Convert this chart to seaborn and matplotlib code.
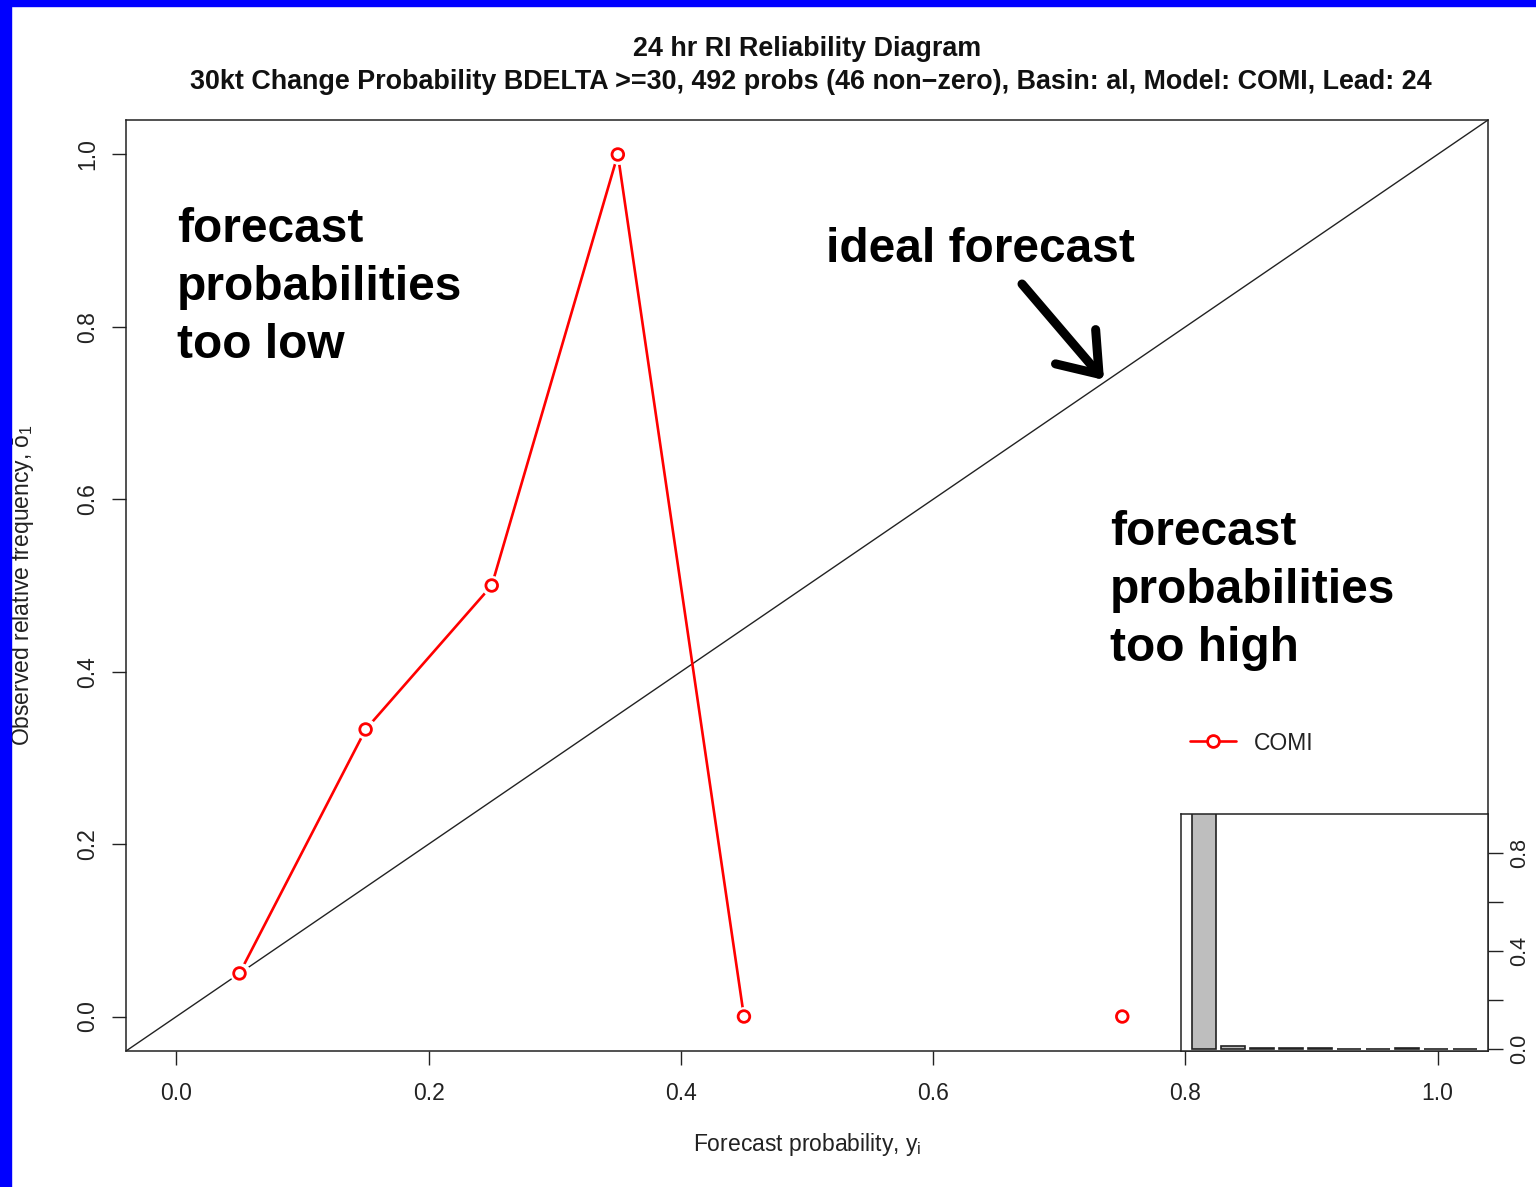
import numpy as np
import pandas as pd
import matplotlib
matplotlib.use("Agg")
import matplotlib.pyplot as plt
from matplotlib.lines import Line2D
from matplotlib.patches import Rectangle
import seaborn as sns

# ---------------- data ----------------
bin_centers = [0.05, 0.15, 0.25, 0.35, 0.45, 0.55, 0.65, 0.75, 0.85, 0.95]
obs_freq = [0.05, 0.333, 0.5, 1.0, 0.0, np.nan, np.nan, 0.0, np.nan, np.nan]
segment = [1, 1, 1, 1, 1, 2, 2, 2, 3, 3]
hist_bins = ["0.0-0.1", "0.1-0.2", "0.2-0.3", "0.3-0.4", "0.4-0.5",
             "0.5-0.6", "0.6-0.7", "0.7-0.8", "0.8-0.9", "0.9-1.0"]
hist_freq = [0.975, 0.012, 0.004, 0.004, 0.004, 0.001, 0.001, 0.003, 0.001, 0.001]
x_ticks = [0.0, 0.2, 0.4, 0.6, 0.8, 1.0]
x_ticklabels = ["0.0", "0.2", "0.4", "0.6", "0.8", "1.0"]
y_ticks = [0.0, 0.2, 0.4, 0.6, 0.8, 1.0]
y_ticklabels = ["0.0", "0.2", "0.4", "0.6", "0.8", "1.0"]
inset_ticks = [0.0, 0.2, 0.4, 0.6, 0.8]
inset_ticklabels = ["0.0", "", "0.4", "", "0.8"]
title1 = "24 hr RI Reliability Diagram"
title2 = "30kt Change Probability BDELTA >=30, 492 probs (46 non\u2212zero), Basin: al, Model: COMI, Lead: 24"
model_name = "COMI"

# ---------------- style ----------------
sns.set_theme(style="ticks")
plt.rcParams["font.family"] = ["Liberation Sans", "DejaVu Sans"]
plt.rcParams["mathtext.fontset"] = "custom"
plt.rcParams["mathtext.rm"] = "Liberation Sans"
plt.rcParams["mathtext.it"] = "Liberation Sans"
plt.rcParams["text.color"] = "black"
plt.rcParams["axes.edgecolor"] = "#222222"
plt.rcParams["axes.linewidth"] = 1.1

W, H = 1536, 1187
fig = plt.figure(figsize=(W / 100, H / 100), dpi=100)
fig.patch.set_facecolor("white")

# blue frame
fig.patches.append(Rectangle((0, 0), 11 / W, 1, transform=fig.transFigure,
                             color="#0000FF", zorder=10))
fig.patches.append(Rectangle((0, 1 - 6 / H), 1, 6 / H, transform=fig.transFigure,
                             color="#0000FF", zorder=10))

L, R, B, T = 126 / W, 1488 / W, 1 - 1051 / H, 1 - 120 / H
ax = fig.add_axes([L, B, R - L, T - B])
ax.set_xlim(-0.04, 1.04)
ax.set_ylim(-0.04, 1.04)
for s in ax.spines.values():
    s.set_visible(True)
    s.set_color("#222222")

# ideal diagonal
ax.axline((0, 0), slope=1, color="#222222", lw=1.0, zorder=2)

df = pd.DataFrame({"x": bin_centers, "y": obs_freq, "seg": segment})
sns.lineplot(data=df.dropna(), x="x", y="y", units="seg", estimator=None,
             color="#FF0000", lw=1.9, ax=ax, zorder=3, legend=False)
# gap around points (R type "b")
ax.plot(df["x"], df["y"], ls="none", marker="o", ms=14, mfc="white",
        mec="white", zorder=4)
sns.scatterplot(data=df, x="x", y="y", ax=ax, s=70, facecolor="none",
                edgecolor="#FF0000", linewidth=2.0, zorder=5, legend=False)

ax.set_xticks(x_ticks)
ax.set_xticklabels(x_ticklabels)
ax.set_yticks(y_ticks)
ax.set_yticklabels(y_ticklabels, rotation=90, va="center")
ax.tick_params(axis="both", direction="out", length=10, width=1.0,
               colors="#222222", labelsize=16.5, labelcolor="#222222")
ax.tick_params(axis="x", pad=12)
ax.tick_params(axis="y", pad=9)
ax.set_xlabel("")
ax.set_ylabel("")

fig.text(807 / W, 1 - 1145 / H, r"Forecast probability, $\mathrm{y}_\mathrm{i}$",
         ha="center", va="center", fontsize=16.5, color="#222222")
fig.text(23 / W, 1 - 585 / H,
         "Observed relative frequency, \u014d$_\\mathrm{1}$",
         ha="center", va="center", rotation=90, fontsize=16.5, color="#222222")

fig.text(807 / W, 1 - 56 / H, title1, ha="center", va="baseline",
         fontsize=19.4, fontweight="bold", color="#111111")
fig.text(811 / W, 1 - 89 / H, title2, ha="center", va="baseline",
         fontsize=19.4, fontweight="bold", color="#111111")

# annotations
def px2data(px, py):
    return -0.04 + (px - 126) / 1362 * 1.08, 1.04 - (py - 120) / 931 * 1.08

for i, line in enumerate(["forecast", "probabilities", "too low"]):
    x, y = px2data(177, 242 + 58 * i)
    ax.text(x, y, line, fontsize=34.5, fontweight="bold", va="baseline",
            ha="left", color="black")
for i, line in enumerate(["forecast", "probabilities", "too high"]):
    x, y = px2data(1110, 545 + 58 * i)
    ax.text(x, y, line, fontsize=34.5, fontweight="bold", va="baseline",
            ha="left", color="black")
x, y = px2data(826, 262)
ax.text(x, y, "ideal forecast", fontsize=34.5, fontweight="bold", va="baseline",
        ha="left", color="black")

tail = px2data(1022, 284)
tip = px2data(1104, 380)
ax.annotate("", xy=tip, xytext=tail,
            arrowprops=dict(arrowstyle="->, head_length=0.52, head_width=0.38",
                            mutation_scale=50, lw=6.5, color="black",
                            shrinkA=0, shrinkB=0, capstyle="round",
                            joinstyle="round"))

# legend
handle = Line2D([], [], color="#FF0000", lw=1.9, marker="o", ms=8.5,
                mfc="white", mec="#FF0000", mew=2.0)
leg = ax.legend([handle], [model_name], loc="center left",
                bbox_to_anchor=((1190 - 126) / 1362, (1051 - 743) / 931),
                frameon=False, fontsize=16.5, handlelength=2.0, handletextpad=0.8,
                borderpad=0, borderaxespad=0)
for t in leg.get_texts():
    t.set_color("#222222")

# inset histogram
iL, iT = 1181 / W, 1 - 814 / H
iax = fig.add_axes([iL, B, R - iL, iT - B])
iax.set_facecolor("white")
sns.barplot(x=hist_bins, y=hist_freq, ax=iax, color="#BEBEBE", saturation=1,
            edgecolor="#222222", linewidth=1.2, width=0.833, errorbar=None)
iax.set_xlim(-0.81, 9.81)
iax.set_ylim(-0.008, 0.959)
iax.set_xticks([])
iax.yaxis.tick_right()
iax.set_yticks(inset_ticks)
iax.set_yticklabels(inset_ticklabels, rotation=90, va="center")
iax.tick_params(axis="y", direction="out", length=11, width=1.0, colors="#222222",
                labelsize=15.5, pad=4)
iax.set_xlabel("")
iax.set_ylabel("")
for s in iax.spines.values():
    s.set_visible(True)
    s.set_color("#222222")

fig.savefig("out.png", dpi=100)
